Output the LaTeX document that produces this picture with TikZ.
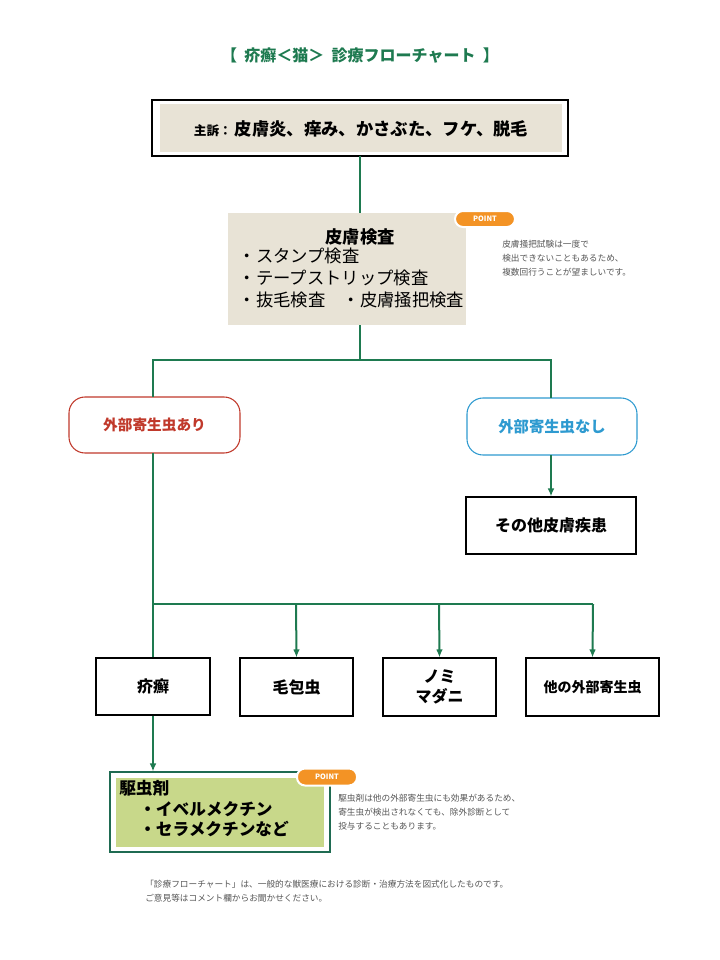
\documentclass[tikz,border=0pt]{standalone}
\usepackage{fontspec}
\setmainfont{Noto Sans CJK JP}
\usetikzlibrary{arrows.meta}
\definecolor{gline}{HTML}{1E7A50}
\definecolor{beige}{HTML}{E8E3D6}
\definecolor{lgreen}{HTML}{C8D88A}
\definecolor{dgreen}{HTML}{1F6B52}
\definecolor{orng}{HTML}{F39325}
\definecolor{redc}{HTML}{C0392B}
\definecolor{bluec}{HTML}{2E9AD0}
\definecolor{notec}{HTML}{555555}
\tikzset{
 conn/.style={gline,line width=1.5pt},
 arr/.style={conn,-{Latex[length=6pt,width=5pt]}},
 leaf/.style={draw=black,line width=0.8pt,fill=white,align=center,font=\bfseries\fontsize{12}{14}\selectfont},
 pointb/.style={fill=orng,draw=white,line width=1.5pt,rounded corners=6pt,text=white,font=\bfseries\fontsize{5.5}{6}\selectfont,inner sep=0pt},
 note/.style={anchor=north west,align=left,text=notec,font=\fontsize{6.5}{10.5}\selectfont,inner sep=0pt},
}
\begin{document}
\begin{tikzpicture}[x=0.75pt,y=-0.75pt]
\useasboundingbox (0,0) rectangle (720,960);
\node[text=gline,font=\bfseries\fontsize{12}{14}\selectfont] (title) at (360,56) {【\ \ 疥癬＜猫＞\ \ 診療フローチャート\ \ 】};
% main complaint
\draw[line width=0.8pt] (152,100) rectangle (568,156);
\fill[beige] (160,104) rectangle (562,152);
\node (mc) at (361,129) {{\bfseries\fontsize{9.5}{11}\selectfont 主訴：}\ {\bfseries\fontsize{13}{15}\selectfont 皮膚炎、痒み、かさぶた、フケ、脱毛}};
\coordinate (mcb) at (360,156);
% skin exam
\node[fill=beige,minimum width=238*0.75pt,minimum height=112*0.75pt,inner sep=0pt] (se) at (347,269) {};
\node[font=\bfseries\fontsize{13}{15}\selectfont] (set) at (360,237) {皮膚検査};
\node[anchor=west,font=\fontsize{13}{16.5}\selectfont,align=left] (sei) at (234,278) {・スタンプ検査\\・テープストリップ検査\\・抜毛検査\quad ・皮膚掻把検査};
\node[pointb,minimum width=60*0.75pt,minimum height=16*0.75pt] (p1) at (485,219) {POINT};
\node[note] (n1) at (502,240) {皮膚掻把試験は一度で\\検出できないこともあるため、\\複数回行うことが望ましいです。};
\draw[conn] (mcb) -- (mcb |- se.north);
\coordinate (split) at (360,360);
% branch
\node[draw=redc,line width=0.8pt,rounded corners=12pt,minimum width=171*0.75pt,minimum height=56*0.75pt,text=redc,font=\bfseries\fontsize{11}{13}\selectfont] (yes) at (154.5,425) {外部寄生虫あり};
\node[draw=bluec,line width=0.8pt,rounded corners=12pt,minimum width=170*0.75pt,minimum height=57*0.75pt,text=bluec,font=\bfseries\fontsize{11.5}{13}\selectfont] (no) at (552,426.5) {外部寄生虫なし};
\draw[conn] (split |- se.south) -- (split) -| (153,397);
\draw[conn] (split) -| (551,398);
\node[leaf,minimum width=170*0.75pt,minimum height=57*0.75pt] (other) at (551,525.5) {その他皮膚疾患};
\draw[arr] (551,455) -- (other.north);
% leaves
\node[leaf,minimum width=114*0.75pt,minimum height=57*0.75pt] (k) at (153,686.5) {疥癬};
\node[leaf,minimum width=113*0.75pt,minimum height=58*0.75pt] (m) at (296.5,687) {毛包虫};
\node[leaf,minimum width=113*0.75pt,minimum height=58*0.75pt,font=\bfseries\fontsize{12}{15}\selectfont] (n) at (439.5,687) {ノミ\\マダニ};
\node[leaf,minimum width=133*0.75pt,minimum height=58*0.75pt,font=\bfseries\fontsize{10.5}{13}\selectfont] (o) at (592.5,687) {他の外部寄生虫};
\draw[conn] (153,453) -- (k.north);
\draw[conn] (153,604) -- (593,604);
\draw[arr] (296,604) -- (m.north);
\draw[arr] (439,604) -- (n.north);
\draw[arr] (593,604) -- (o.north);
% treatment
\node[draw=dgreen,line width=0.8pt,minimum width=220*0.75pt,minimum height=80*0.75pt,inner sep=0pt] (t) at (220,812) {};
\fill[lgreen] (116,778) rectangle (324,847);
\node[anchor=north west,align=left,font=\bfseries\fontsize{12.5}{15.5}\selectfont,inner sep=0pt] (tt) at (119,780) {駆虫剤\\\hspace{1.2em}・イベルメクチン\\\hspace{1.2em}・セラメクチンなど};
\node[pointb,minimum width=60*0.75pt,minimum height=17*0.75pt] (p2) at (327,777) {POINT};
\node[note] (n2) at (338,794) {駆虫剤は他の外部寄生虫にも効果があるため、\\寄生虫が検出されなくても、除外診断として\\投与することもあります。};
\draw[arr] (k.south) -- (k.south |- t.north);
\node[note] (foot) at (145,880) {「診療フローチャート」は、一般的な獣医療における診断・治療方法を図式化したものです。\\ご意見等はコメント欄からお聞かせください。};
\end{tikzpicture}
\end{document}
